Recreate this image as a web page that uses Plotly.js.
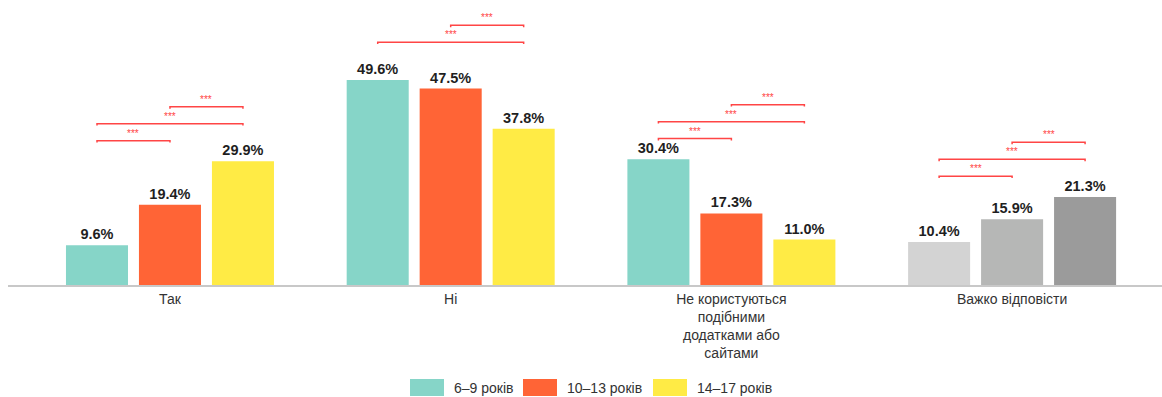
<!DOCTYPE html>
<html>
<head>
<meta charset="utf-8">
<script src="https://cdn.plot.ly/plotly-3.0.1.min.js"></script>
<style>html,body{margin:0;padding:0;background:#fff;}#chart{width:1162px;height:397px;}</style>
</head>
<body>
<div id="chart"></div>
<script>
// ---- data ----
const categories = ["Так", "Ні", "Не користуються<br>подібними<br>додатками або<br>сайтами", "Важко відповісти"];
const seriesNames = ["6–9 років", "10–13 років", "14–17 років"];
const values6_9 = [9.6, 49.6, 30.4, 10.4];
const values10_13 = [19.4, 47.5, 17.3, 15.9];
const values14_17 = [29.9, 37.8, 11.0, 21.3];
const colors6_9 = ["#86D5C8", "#86D5C8", "#86D5C8", "#D3D3D3"];
const colors10_13 = ["#FF6436", "#FF6436", "#FF6436", "#B6B7B6"];
const colors14_17 = ["#FFEB45", "#FFEB45", "#FFEB45", "#9B9B9B"];
// significant pairs (indices of series) in each category, label "***"
const sigPairs = [
  [[0, 1], [0, 2], [1, 2]],
  [[0, 2], [1, 2]],
  [[0, 1], [0, 2], [1, 2]],
  [[0, 1], [0, 2], [1, 2]]
];
const sigLabel = "***";

// ---- layout constants ----
const W = 1162, H = 397;
const M = {l: 8, r: 0, t: 10, b: 112};
const bargap = 0.22, bargroupgap = 0.15;
const yMax = 66.5;
const allValues = [values6_9, values10_13, values14_17];
const allColors = [colors6_9, colors10_13, colors14_17];

const traces = allValues.map((vals, k) => ({
  type: "bar",
  name: seriesNames[k],
  x: categories.map((c, i) => i),
  y: vals,
  marker: {color: allColors[k]},
  texttemplate: "%{y:.1f}%",
  textposition: "outside",
  textfont: {family: "Liberation Sans, Arial, sans-serif", size: 14.5, color: "#1f1f1f", weight: "bold"},
  cliponaxis: false,
  showlegend: false,
  hoverinfo: "skip"
}));

const shapes = [];
const annotations = [];
const slot = (1 - bargap) / 3;
const levelOf = p => (p[0] === 0 && p[1] === 1) ? 0 : (p[0] === 0 && p[1] === 2 ? 1 : 2);
sigPairs.forEach((pairs, i) => {
  const maxV = Math.max(values6_9[i], values10_13[i], values14_17[i]);
  pairs.forEach(p => {
    const y = maxV + 5.0 + 4.1 * levelOf(p);
    const x1 = i + (p[0] - 1) * slot, x2 = i + (p[1] - 1) * slot;
    const d = 0.45;
    shapes.push({type: "path", xref: "x", yref: "y",
      path: `M ${x1},${y - d} L ${x1},${y} L ${x2},${y} L ${x2},${y - d}`,
      line: {color: "#FF4545", width: 1.5}});
    annotations.push({xref: "x", yref: "y", x: (x1 + x2) / 2, y: y, text: sigLabel,
      showarrow: false, yanchor: "bottom", font: {family: "Liberation Sans, Arial", size: 10, color: "#FF4545"}});
  });
});

// manual legend (large swatches), in paper coordinates
const pw = W - M.l - M.r, ph = H - M.t - M.b;
const px2x = px => (px - M.l) / pw;
const px2y = py => (H - M.b - py) / ph;
const legendStarts = [410, 523, 653];
const swW = 34, swTop = 379, swBot = 396;
seriesNames.forEach((n, k) => {
  const x0 = legendStarts[k];
  shapes.push({type: "rect", xref: "paper", yref: "paper",
    x0: px2x(x0), x1: px2x(x0 + swW), y0: px2y(swBot), y1: px2y(swTop),
    fillcolor: allColors[k][0], line: {width: 0}});
  annotations.push({xref: "paper", yref: "paper", x: px2x(x0 + swW + 8), y: px2y(388),
    xanchor: "left", yanchor: "middle", text: n, showarrow: false,
    font: {family: "Liberation Sans, Arial", size: 14, color: "#333"}});
});

const layout = {
  width: W, height: H,
  margin: M,
  paper_bgcolor: "#fff", plot_bgcolor: "#fff",
  barmode: "group", bargap: bargap, bargroupgap: bargroupgap,
  showlegend: false,
  xaxis: {
    range: [-0.577, 3.534],
    tickmode: "array", tickvals: [0, 1, 2, 3], ticktext: categories,
    showgrid: false, zeroline: false,
    showline: true, linecolor: "#C8C8C8", linewidth: 2,
    ticks: "", ticklen: 0,
    tickfont: {family: "Liberation Sans, Arial, sans-serif", size: 14, color: "#333"},
    fixedrange: true
  },
  yaxis: {range: [0, yMax], visible: false, showgrid: false, zeroline: false, fixedrange: true},
  shapes: shapes,
  annotations: annotations,
  font: {family: "Liberation Sans, Arial, sans-serif"}
};

Plotly.newPlot("chart", traces, layout, {displayModeBar: false, staticPlot: true});
</script>
</body>
</html>
